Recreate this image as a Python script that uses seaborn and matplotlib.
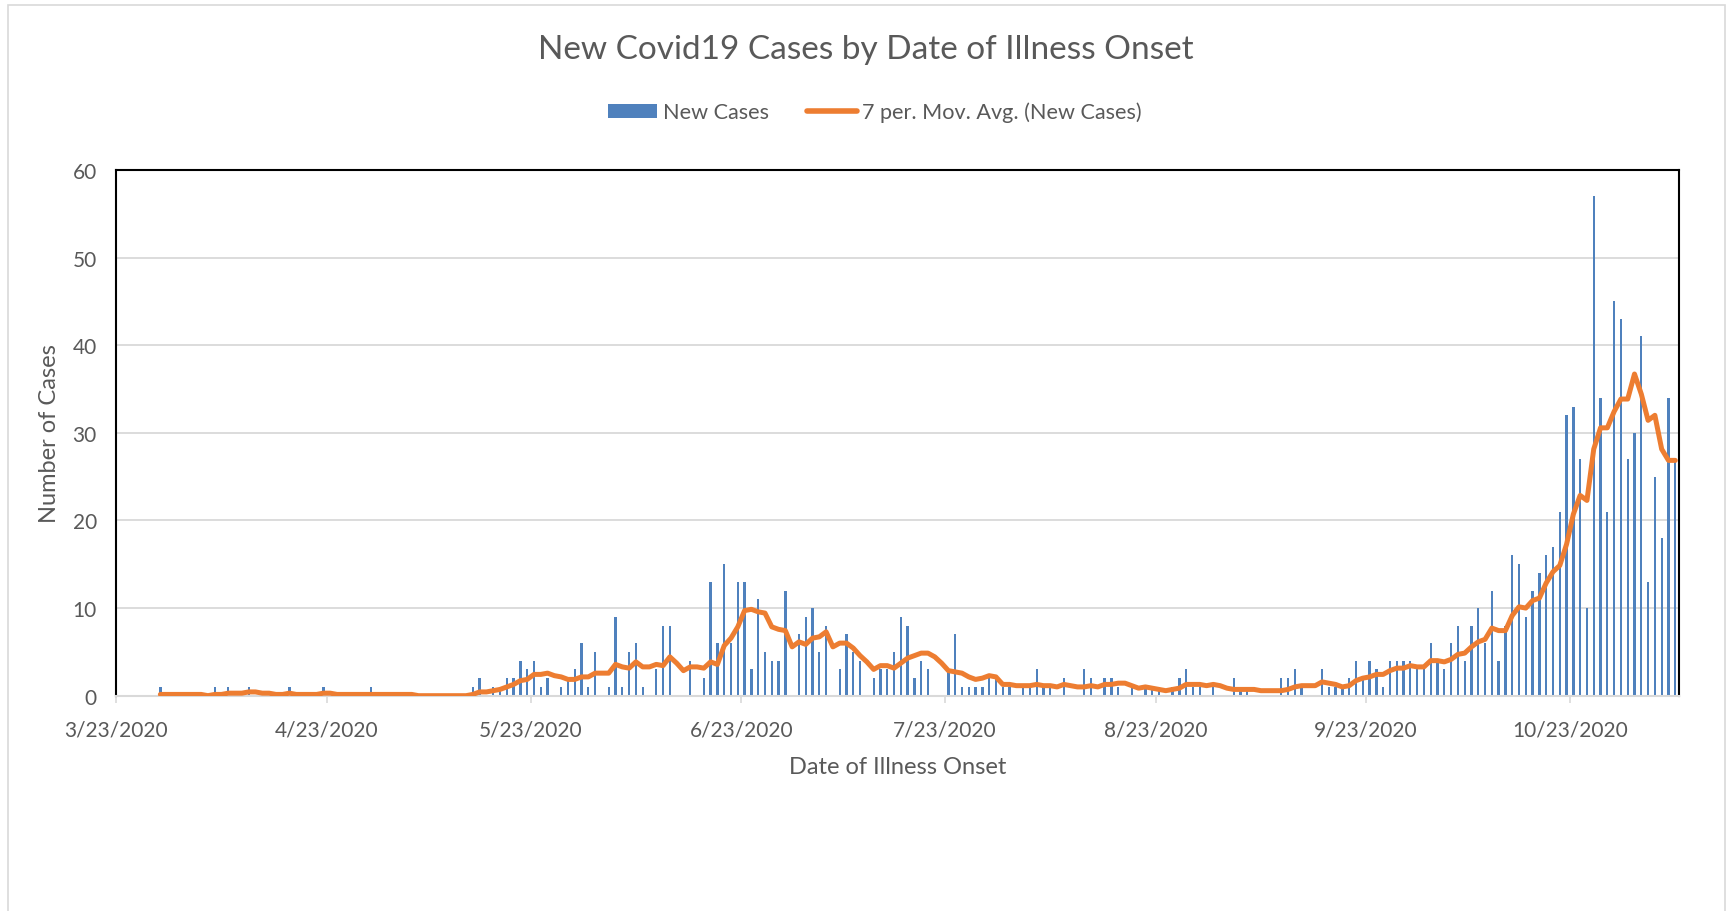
import matplotlib
matplotlib.use("Agg")
import matplotlib.pyplot as plt
from matplotlib.patches import Patch, Rectangle
from matplotlib.lines import Line2D
import pandas as pd
import seaborn as sns

# daily new cases from 3/23/2020 to 11/8/2020
start_date = "2020-03-23"
new_cases = [
    0, 0, 0, 0, 0, 0, 1, 0, 0, 0,    # 3/23 - 4/1
    0, 0, 0, 0, 1, 0, 1, 0, 0, 1,    # 4/2 - 4/11
    0, 0, 0, 0, 0, 1, 0, 0, 0, 0,    # 4/12 - 4/21
    1, 0, 0, 0, 0, 0, 0, 1, 0, 0,    # 4/22 - 5/1
    0, 0, 0, 0, 0, 0, 0, 0, 0, 0,    # 5/2 - 5/11
    0, 0, 1, 2, 0, 1, 1, 2, 2, 4,    # 5/12 - 5/21
    3, 4, 1, 2, 0, 1, 2, 3, 6, 1,    # 5/22 - 5/31
    5, 0, 1, 9, 1, 5, 6, 1, 0, 3,    # 6/1 - 6/10
    8, 8, 0, 0, 4, 0, 2, 13, 6, 15,  # 6/11 - 6/20
    6, 13, 13, 3, 11, 5, 4, 4, 12, 0,  # 6/21 - 6/30
    7, 9, 10, 5, 8, 0, 3, 7, 5, 4,   # 7/1 - 7/10
    0, 2, 3, 3, 5, 9, 8, 2, 4, 3,    # 7/11 - 7/20
    0, 0, 3, 7, 1, 1, 1, 1, 2, 2,    # 7/21 - 7/30
    1, 1, 0, 1, 1, 3, 1, 1, 0, 2,    # 7/31 - 8/9
    0, 0, 3, 2, 0, 2, 2, 1, 0, 1,    # 8/10 - 8/19
    0, 1, 1, 1, 0, 1, 2, 3, 1, 1,    # 8/20 - 8/29
    0, 1, 0, 0, 2, 1, 1, 0, 0, 0,    # 8/30 - 9/8
    0, 2, 2, 3, 1, 0, 0, 3, 1, 1,    # 9/9 - 9/18
    1, 2, 4, 2, 4, 3, 1, 4, 4, 4,    # 9/19 - 9/28
    4, 3, 3, 6, 4, 3, 6, 8, 4, 8,    # 9/29 - 10/8
    10, 6, 12, 4, 8, 16, 15, 9, 12, 14,  # 10/9 - 10/18
    16, 17, 21, 32, 33, 27, 10, 57, 34, 21,  # 10/19 - 10/28
    45, 43, 27, 30, 41, 13, 25, 18, 34, 27,  # 10/29 - 11/7
]
tick_labels = ["3/23/2020", "4/23/2020", "5/23/2020", "6/23/2020",
               "7/23/2020", "8/23/2020", "9/23/2020", "10/23/2020"]
y_ticks = [0, 10, 20, 30, 40, 50, 60]

dates = pd.date_range(start_date, periods=len(new_cases), freq="D")
df = pd.DataFrame({"date": dates, "new_cases": new_cases})
df["day"] = (df["date"] - dates[0]).dt.days
df["mov_avg"] = df["new_cases"].rolling(7).mean()

tick_pos = [(pd.to_datetime(t) - dates[0]).days - 0.5 for t in tick_labels]

blue = "#4F81BD"
orange = "#ED7D31"
txt = "#595959"
grid = "#D9D9D9"

sns.set_theme(style="white")
plt.rcParams["font.family"] = ["Lato", "DejaVu Sans"]

fig = plt.figure(figsize=(17.32, 9.12), dpi=100)
ax = fig.add_axes([0.0671, 0.2361, 0.9021, 0.5764])

sns.barplot(data=df, x="day", y="new_cases", native_scale=True, width=0.34,
            color=blue, saturation=1, errorbar=None, linewidth=0, ax=ax, zorder=2)
sns.lineplot(data=df, x="day", y="mov_avg", color=orange, linewidth=3.6,
             solid_joinstyle="round", solid_capstyle="round", ax=ax, zorder=3)

ax.set_xlim(-0.5, len(new_cases) - 0.5)
ax.set_ylim(0, 60)
ax.set_yticks(y_ticks)
ax.set_xticks(tick_pos)
ax.set_xticklabels(tick_labels)
ax.yaxis.grid(True, color=grid, linewidth=1.3, zorder=0)
ax.set_axisbelow(True)
ax.tick_params(axis="y", length=0, pad=14, labelsize=15, labelcolor=txt)
ax.tick_params(axis="x", length=5, width=1.2, color=grid, direction="out",
               pad=12, labelsize=15, labelcolor=txt, bottom=True)
for side in ["top", "left", "right"]:
    ax.spines[side].set_color("black")
    ax.spines[side].set_linewidth(1.5)
ax.spines["bottom"].set_color(grid)
ax.spines["bottom"].set_linewidth(1.5)

ax.set_xlabel("Date of Illness Onset", fontsize=17, color=txt)
ax.set_ylabel("Number of Cases", fontsize=17, color=txt)
ax.xaxis.set_label_coords(0.5, -0.115)
ax.yaxis.set_label_coords(-0.036, 0.5)

fig.text(0.5, 1 - 50 / 912, "New Covid19 Cases by Date of Illness Onset",
         ha="center", va="center", fontsize=24, color=txt)

handles = [Patch(facecolor=blue, edgecolor="none", label="New Cases"),
           Line2D([0], [0], color=orange, linewidth=4, solid_capstyle="round",
                  label="7 per. Mov. Avg. (New Cases)")]
fig.legend(handles=handles, loc="center", bbox_to_anchor=(0.505, 1 - 113 / 912),
           ncol=2, frameon=False, fontsize=15.6, labelcolor=txt,
           handlelength=2.3, handleheight=0.6, handletextpad=0.25, columnspacing=1.75)

fig.patches.append(Rectangle((8 / 1732, -0.05), 1717 / 1732, 1.05 - 6 / 912,
                             transform=fig.transFigure, fill=False,
                             edgecolor=grid, linewidth=1.2))

fig.savefig("out.png", dpi=100)
